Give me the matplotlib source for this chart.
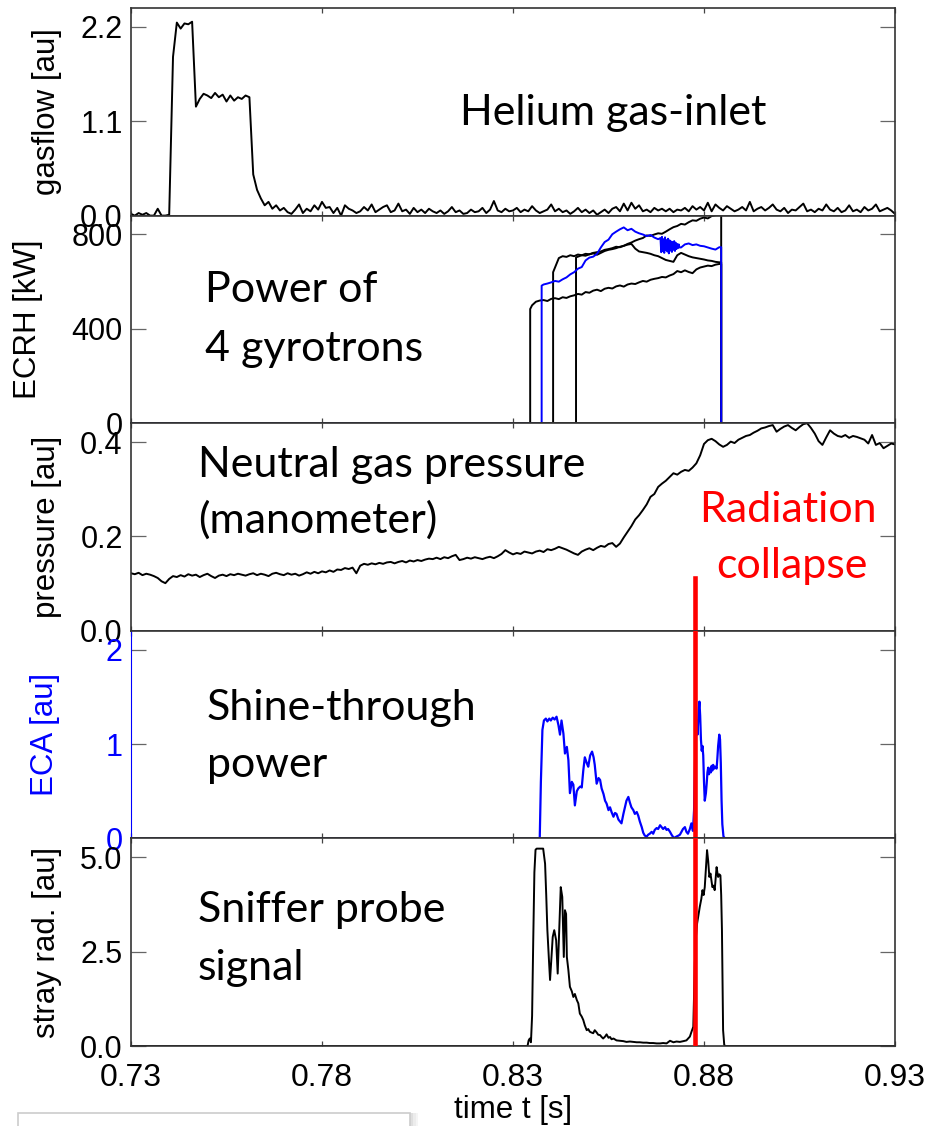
#
# W7-X type discharge overview: gas inlet, ECRH, pressure, ECA, sniffer probe
#

import matplotlib.pyplot as plt
from matplotlib.patches import Rectangle
import numpy as np

plt.rcParams['font.family'] = ['Liberation Sans', 'DejaVu Sans']

### Data

t_ticks = [0.73, 0.78, 0.83, 0.88, 0.93]
t_labels = ['0.73', '0.78', '0.83', '0.88', '0.93']
collapse_t = 0.8776

# gas flow, sampled every 1 ms
gas_t = np.round(np.linspace(0.730, 0.930, 201), 3)
gas_v = [0.02, 0.00, 0.03, 0.01, 0.03, 0.00, 0.00, 0.08, 0.00, 0.00,
         0.01, 1.85, 2.25, 2.18, 2.24, 2.23, 2.26, 1.27, 1.36, 1.42,
         1.40, 1.37, 1.43, 1.38, 1.41, 1.33, 1.40, 1.34, 1.38, 1.36,
         1.40, 1.38, 0.48, 0.30, 0.20, 0.12, 0.16, 0.08, 0.12, 0.06,
         0.09, 0.04, 0.02, 0.07, 0.13, 0.03, 0.08, 0.05, 0.12, 0.07,
         0.16, 0.09, 0.10, 0.03, 0.09, 0.00, 0.12, 0.08, 0.06, 0.03,
         0.05, 0.10, 0.06, 0.13, 0.04, 0.07, 0.10, 0.12, 0.04, 0.06,
         0.14, 0.05, 0.07, 0.02, 0.09, 0.04, 0.07, 0.03, 0.08, 0.05,
         0.03, 0.06, 0.02, 0.05, 0.10, 0.04, 0.06, 0.02, 0.03, 0.07,
         0.04, 0.05, 0.09, 0.03, 0.07, 0.17, 0.06, 0.04, 0.08, 0.05,
         0.06, 0.09, 0.04, 0.07, 0.05, 0.11, 0.06, 0.03, 0.05, 0.07,
         0.13, 0.05, 0.08, 0.04, 0.06, 0.02, 0.05, 0.09, 0.04, 0.07,
         0.03, 0.06, 0.01, 0.04, 0.07, 0.03, 0.08, 0.10, 0.05, 0.14,
         0.06, 0.15, 0.08, 0.12, 0.05, 0.07, 0.04, 0.09, 0.06, 0.08,
         0.05, 0.08, 0.04, 0.07, 0.06, 0.09, 0.05, 0.11, 0.07, 0.10,
         0.06, 0.15, 0.05, 0.13, 0.09, 0.06, 0.11, 0.08, 0.05, 0.07,
         0.10, 0.06, 0.16, 0.05, 0.08, 0.10, 0.06, 0.09, 0.13, 0.07,
         0.05, 0.09, 0.03, 0.07, 0.06, 0.10, 0.14, 0.05, 0.07, 0.04,
         0.08, 0.06, 0.13, 0.07, 0.05, 0.09, 0.04, 0.06, 0.12, 0.05,
         0.07, 0.04, 0.10, 0.06, 0.08, 0.13, 0.05, 0.07, 0.09, 0.06,
         0.02]

# ECRH power of the 4 gyrotrons [kW], sampled every 1 ms while on
ecrh_grid = np.round(np.linspace(0.835, 0.884, 50), 3)
ecrh_off = 0.8845
g1_on, g1_first = 0.8345, 484
g1_v = [500, 515, 520, 522, 518, 527, 530, 526, 534, 531,
        538, 542, 548, 545, 556, 553, 562, 566, 560, 570,
        574, 571, 580, 584, 579, 588, 592, 590, 597, 603,
        600, 608, 612, 615, 620, 618, 626, 632, 645, 640,
        648, 641, 636, 652, 660, 664, 668, 666, 672, 675]
g2_on, g2_first = 0.8375, 583
g2_v = [588, 592, 597, 603, 600, 610, 618, 631, 640, 655,
        662, 690, 702, 706, 718, 745, 768, 778, 801, 812,
        822, 830, 818, 824, 812, 805, 800, 793, 798, 787,
        780, 740, 785, 725, 770, 735, 745, 758, 762, 755,
        758, 752, 750, 745, 740, 736, 746]
g2_burst_t = np.linspace(0.8686, 0.8736, 26)
g2_burst_v = [785, 725, 790, 730, 780, 722, 788, 735, 776, 728,
              782, 720, 775, 732, 770, 726, 768, 735, 772, 730,
              765, 738, 760, 742, 758, 745]
g3_on, g3_first = 0.8405, 640
g3_v = [660, 700, 708, 705, 712, 708, 715, 712, 718, 716,
        722, 725, 728, 735, 738, 742, 748, 746, 752, 760,
        766, 774, 780, 785, 796, 794, 800, 805, 803, 812,
        822, 831, 836, 845, 842, 852, 860, 858, 867, 872,
        868, 878, 882, 885]
g4_on, g4_first = 0.8465, 703
g4_v = [706, 712, 710, 716, 720, 714, 722, 730, 735, 738,
        742, 748, 752, 757, 760, 740, 728, 725, 722, 718,
        712, 708, 700, 692, 688, 684, 712, 722, 715, 708,
        703, 700, 697, 694, 690, 688, 684, 682]

# neutral gas pressure, sampled every 1 ms
pres_t = np.round(np.linspace(0.730, 0.930, 201), 3)
pres_v = [0.122, 0.120, 0.123, 0.118, 0.121, 0.119, 0.116, 0.112, 0.105, 0.101,
          0.110, 0.116, 0.114, 0.118, 0.115, 0.120, 0.117, 0.119, 0.114, 0.118,
          0.121, 0.116, 0.112, 0.117, 0.119, 0.116, 0.120, 0.118, 0.121, 0.119,
          0.117, 0.120, 0.122, 0.118, 0.121, 0.119, 0.116, 0.121, 0.123, 0.120,
          0.118, 0.122, 0.119, 0.121, 0.117, 0.120, 0.124, 0.121, 0.125, 0.122,
          0.126, 0.124, 0.128, 0.125, 0.130, 0.129, 0.133, 0.131, 0.134, 0.122,
          0.138, 0.142, 0.140, 0.143, 0.141, 0.144, 0.142, 0.145, 0.146, 0.143,
          0.146, 0.148, 0.145, 0.149, 0.147, 0.150, 0.148, 0.151, 0.153, 0.152,
          0.155, 0.152, 0.156, 0.154, 0.158, 0.161, 0.150, 0.152, 0.155, 0.153,
          0.156, 0.154, 0.152, 0.155, 0.157, 0.154, 0.158, 0.163, 0.171, 0.166,
          0.162, 0.165, 0.163, 0.168, 0.166, 0.164, 0.168, 0.170, 0.167, 0.173,
          0.171, 0.174, 0.178, 0.175, 0.172, 0.168, 0.164, 0.161, 0.168, 0.172,
          0.175, 0.171, 0.176, 0.180, 0.178, 0.184, 0.186, 0.178, 0.185, 0.198,
          0.210, 0.222, 0.236, 0.245, 0.256, 0.268, 0.284, 0.290, 0.305, 0.312,
          0.318, 0.326, 0.334, 0.331, 0.337, 0.341, 0.339, 0.346, 0.355, 0.372,
          0.396, 0.404, 0.407, 0.402, 0.395, 0.390, 0.394, 0.401, 0.398, 0.405,
          0.409, 0.413, 0.415, 0.420, 0.424, 0.429, 0.431, 0.434, 0.436, 0.422,
          0.428, 0.433, 0.436, 0.430, 0.425, 0.432, 0.438, 0.440, 0.430, 0.418,
          0.402, 0.394, 0.410, 0.425, 0.418, 0.413, 0.411, 0.415, 0.409, 0.413,
          0.411, 0.408, 0.405, 0.397, 0.415, 0.394, 0.398, 0.387, 0.392, 0.397,
          0.395]

# ECA shine-through power
eca_t = [0.7300, 0.8370, 0.8373, 0.8377, 0.8381, 0.8386, 0.8390, 0.8395, 0.8399, 0.8404,
         0.8409, 0.8414, 0.8419, 0.8423, 0.8427, 0.8432, 0.8436, 0.8441, 0.8445, 0.8449,
         0.8454, 0.8458, 0.8462, 0.8467, 0.8471, 0.8476, 0.8480, 0.8484, 0.8488, 0.8493,
         0.8497, 0.8502, 0.8507, 0.8511, 0.8514, 0.8519, 0.8524, 0.8528, 0.8532, 0.8537,
         0.8541, 0.8545, 0.8550, 0.8554, 0.8558, 0.8563, 0.8567, 0.8571, 0.8576, 0.8580,
         0.8584, 0.8589, 0.8593, 0.8597, 0.8602, 0.8606, 0.8610, 0.8615, 0.8619, 0.8624,
         0.8628, 0.8632, 0.8637, 0.8641, 0.8645, 0.8650, 0.8654, 0.8658, 0.8663, 0.8667,
         0.8671, 0.8676, 0.8680, 0.8685, 0.8689, 0.8693, 0.8698, 0.8702, 0.8706, 0.8711,
         0.8715, 0.8720, 0.8724, 0.8728, 0.8733, 0.8737, 0.8741, 0.8745, 0.8750, 0.8754,
         0.8758, 0.8763, 0.8767, 0.8771, 0.8774, 0.8777, 0.8780, 0.8783, 0.8786, 0.8788,
         0.8790, 0.8792, 0.8794, 0.8796, 0.8798, 0.8800, 0.8802, 0.8805, 0.8807, 0.8809,
         0.8811, 0.8813, 0.8815, 0.8818, 0.8820, 0.8822, 0.8824, 0.8827, 0.8830, 0.8833,
         0.8835, 0.8837, 0.8840, 0.8842, 0.8844, 0.8846, 0.8848, 0.8851, 0.8855, 0.9300]
eca_v = [0.00, 0.00, 0.60, 1.15, 1.25, 1.27, 1.24, 1.27, 1.25, 1.28,
         1.26, 1.29, 1.20, 1.10, 1.25, 1.11, 0.90, 0.97, 0.83, 0.48,
         0.60, 0.57, 0.35, 0.50, 0.53, 0.55, 0.54, 0.72, 0.86, 0.80,
         0.76, 0.88, 0.92, 0.86, 0.78, 0.58, 0.64, 0.62, 0.53, 0.47,
         0.40, 0.37, 0.30, 0.33, 0.28, 0.23, 0.27, 0.26, 0.20, 0.18,
         0.16, 0.26, 0.33, 0.40, 0.44, 0.38, 0.33, 0.30, 0.26, 0.28,
         0.24, 0.18, 0.12, 0.06, 0.03, 0.02, 0.04, 0.05, 0.07, 0.05,
         0.09, 0.11, 0.10, 0.14, 0.12, 0.10, 0.12, 0.09, 0.10, 0.07,
         0.04, 0.01, 0.01, 0.02, 0.03, 0.04, 0.07, 0.10, 0.12, 0.07,
         0.05, 0.10, 0.16, 0.08, 0.30, 0.90, 1.25, 1.10, 1.35, 1.45,
         1.30, 1.05, 0.93, 0.98, 0.88, 0.60, 0.40, 0.48, 0.58, 0.70,
         0.75, 0.68, 0.74, 0.70, 0.77, 0.72, 0.78, 0.74, 0.76, 0.74,
         0.85, 0.98, 1.10, 1.05, 0.80, 0.40, 0.15, 0.02, 0.00, 0.00]

# sniffer probe (stray radiation)
stray_t = [0.7300, 0.8338, 0.8341, 0.8344, 0.8347, 0.8350, 0.8353, 0.8356, 0.8359, 0.8362,
           0.8379, 0.8384, 0.8387, 0.8390, 0.8394, 0.8397, 0.8401, 0.8404, 0.8408, 0.8413,
           0.8417, 0.8421, 0.8425, 0.8429, 0.8433, 0.8436, 0.8439, 0.8441, 0.8445, 0.8449,
           0.8454, 0.8458, 0.8462, 0.8467, 0.8471, 0.8475, 0.8480, 0.8484, 0.8488, 0.8493,
           0.8497, 0.8501, 0.8505, 0.8510, 0.8514, 0.8519, 0.8523, 0.8528, 0.8532, 0.8536,
           0.8541, 0.8545, 0.8550, 0.8554, 0.8558, 0.8563, 0.8571, 0.8580, 0.8589, 0.8597,
           0.8606, 0.8615, 0.8624, 0.8632, 0.8641, 0.8650, 0.8658, 0.8667, 0.8676, 0.8685,
           0.8693, 0.8702, 0.8711, 0.8720, 0.8728, 0.8737, 0.8746, 0.8754, 0.8763, 0.8768,
           0.8772, 0.8776, 0.8779, 0.8782, 0.8786, 0.8789, 0.8793, 0.8796, 0.8799, 0.8802,
           0.8805, 0.8808, 0.8811, 0.8814, 0.8817, 0.8820, 0.8822, 0.8825, 0.8828, 0.8831,
           0.8833, 0.8835, 0.8837, 0.8840, 0.8843, 0.8845, 0.8847, 0.8850, 0.8853, 0.8856,
           0.9300]
stray_v = [0.00, 0.00, 0.15, 0.20, 0.10, 0.80, 2.80, 4.60, 5.20, 5.23,
           5.23, 4.83, 4.00, 3.07, 2.30, 1.75, 2.40, 2.89, 3.07, 2.80,
           1.92, 3.07, 4.21, 3.95, 2.36, 3.60, 3.50, 2.36, 2.01, 1.57,
           1.45, 1.30, 1.38, 1.22, 1.13, 0.86, 0.78, 0.69, 0.55, 0.42,
           0.45, 0.38, 0.36, 0.34, 0.42, 0.36, 0.30, 0.29, 0.24, 0.20,
           0.25, 0.31, 0.22, 0.24, 0.18, 0.20, 0.15, 0.14, 0.13, 0.11,
           0.12, 0.11, 0.10, 0.10, 0.09, 0.09, 0.08, 0.08, 0.07, 0.07,
           0.08, 0.07, 0.14, 0.10, 0.12, 0.11, 0.13, 0.15, 0.25, 0.40,
           0.51, 2.19, 2.90, 3.25, 3.50, 3.69, 3.90, 4.13, 4.00, 4.21,
           4.70, 5.19, 4.90, 4.48, 4.57, 4.35, 4.21, 4.25, 4.13, 4.50,
           4.74, 4.60, 4.48, 4.55, 4.52, 4.00, 3.07, 0.42, 0.03, 0.00,
           0.00]


def gyro_trace(t_on, v_first, vals):
    tt = ecrh_grid[ecrh_grid > t_on][:len(vals)]
    t = np.concatenate([[0.73, t_on, t_on], tt, [ecrh_off, ecrh_off, 0.93]])
    v = np.concatenate([[0, 0, v_first], vals, [vals[-1], 0, 0]])
    return t, v


def style(ax, ylim, yticks, ylabels, ylabel, lab_x, color='black'):
    ax.set_xlim(0.73, 0.93)
    ax.set_ylim(*ylim)
    ax.set_xticks(t_ticks)
    ax.set_xticklabels(t_labels)
    ax.set_yticks(yticks)
    ax.set_yticklabels(ylabels)
    ax.tick_params(axis='y', direction='in', length=11, width=0.9,
                   color='#666666', right=True, labelsize=22, pad=6,
                   labelcolor=color)
    ax.tick_params(axis='x', direction='in', length=3.5, width=0.9,
                   color='#444444', top=True, labelsize=23, pad=12)
    for s in ax.spines.values():
        s.set_color('#333333')
        s.set_linewidth(1.2)
    ax.set_ylabel(ylabel, fontsize=22.5, color=color)
    ax.yaxis.set_label_coords(lab_x, 0.5)


### Figure

fig, axes = plt.subplots(5, 1, figsize=(9.29, 11.26), dpi=100, sharex=True)
fig.subplots_adjust(left=0.141, right=0.9634, bottom=0.0710, top=0.9929, hspace=0)
ax1, ax2, ax3, ax4, ax5 = axes

note = dict(family=['Lato', 'DejaVu Sans'], fontsize=31)

# gas inlet
ax1.plot(gas_t, gas_v, color='black', lw=1.4)
style(ax1, (0, 2.42), [0, 1.1, 2.2], ['0.0', '1.1', '2.2'], 'gasflow [au]', -0.09)
ax1.text(0.4306, 0.435, 'Helium gas-inlet', transform=ax1.transAxes, **note)

# ECRH
for t_on, v_first, vals in [(g1_on, g1_first, g1_v),
                            (g3_on, g3_first, g3_v),
                            (g4_on, g4_first, g4_v)]:
    t, v = gyro_trace(t_on, v_first, vals)
    ax2.plot(t, v, color='black', lw=1.4)
t2, v2 = gyro_trace(g2_on, g2_first, g2_v)
keep = (t2 < g2_burst_t[0]) | (t2 > g2_burst_t[-1])
t2 = np.concatenate([t2[keep], g2_burst_t])
v2 = np.concatenate([v2[keep], g2_burst_v])
order = np.argsort(t2, kind='stable')
ax2.plot(t2[order], v2[order], color='blue', lw=1.4)
style(ax2, (0, 880), [0, 400, 800], ['0', '400', '800'], 'ECRH [kW]', -0.115)
ax2.text(0.0969, 0.585, 'Power of', transform=ax2.transAxes, **note)
ax2.text(0.0969, 0.30, '4 gyrotrons', transform=ax2.transAxes, **note)

# pressure
ax3.plot(pres_t, pres_v, color='black', lw=1.4)
style(ax3, (0, 0.44), [0, 0.2, 0.4], ['0.0', '0.2', '0.4'], 'pressure [au]', -0.09)
ax3.text(0.0877, 0.740, 'Neutral gas pressure', transform=ax3.transAxes, **note)
ax3.text(0.0877, 0.471, '(manometer)', transform=ax3.transAxes, **note)
ax3.text(0.860, 0.524, 'Radiation', transform=ax3.transAxes, ha='center',
         color='red', **note)
ax3.text(0.865, 0.255, 'collapse', transform=ax3.transAxes, ha='center',
         color='red', **note)

# ECA
ax4.plot(eca_t, eca_v, color='blue', lw=1.6)
style(ax4, (0, 2.2), [0, 1, 2], ['0', '1', '2'], 'ECA [au]', -0.093, color='blue')
ax4.spines['left'].set_color('blue')
ax4.spines['left'].set_linewidth(0.8)
for tk in ax4.yaxis.get_major_ticks():
    tk.tick1line.set_color('blue')
ax4.text(0.0995, 0.570, 'Shine-through', transform=ax4.transAxes, **note)
ax4.text(0.0995, 0.295, 'power', transform=ax4.transAxes, **note)

# sniffer probe
ax5.plot(stray_t, stray_v, color='black', lw=1.4)
style(ax5, (0, 5.5), [0, 2.5, 5.0], ['0.0', '2.5', '5.0'], 'stray rad. [au]', -0.09)
ax5.text(0.0877, 0.596, 'Sniffer probe', transform=ax5.transAxes, **note)
ax5.text(0.0877, 0.317, 'signal', transform=ax5.transAxes, **note)
ax5.set_xlabel('time t [s]', fontsize=22.5)
ax5.xaxis.set_label_coords(0.5, -0.235)

# radiation collapse marker
ax3.axvline(collapse_t, ymin=0, ymax=0.255, color='red', lw=3.3, zorder=5)
ax4.axvline(collapse_t, color='red', lw=3.3, zorder=5)
ax5.axvline(collapse_t, color='red', lw=3.3, zorder=5)

# bit of a window frame at the bottom left of the screenshot
for i, a in enumerate([0.25, 0.15, 0.08]):
    fig.patches.append(Rectangle((0.4414 + i * 0.003, -0.01), 0.003, 0.0215,
                                 transform=fig.transFigure, fc='#808080',
                                 ec='none', alpha=a))
fig.patches.append(Rectangle((0.0194, -0.01), 0.4220, 0.0215,
                             transform=fig.transFigure, fc='white',
                             ec='#cccccc', lw=1.2))

fig.savefig('out.png', dpi=100)
